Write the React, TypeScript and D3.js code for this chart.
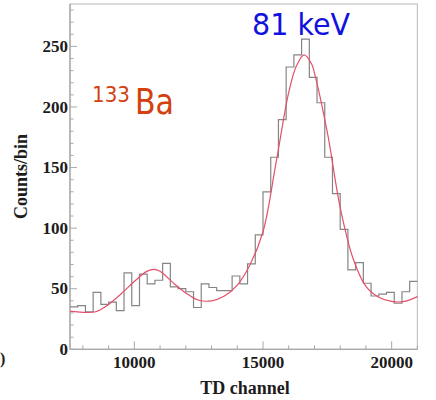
import React from "react";
import * as d3 from "d3";

// Histogram: TD channel bins (300 channels each, starting at 7500)
const binLowEdges: number[] = d3.range(7500, 21000, 300);
const binWidthChannels = 300;
const counts: number[] = [
  35, 36, 31, 47, 37, 39, 32, 63, 36, 62, 54, 57, 71, 51.5, 50, 47.5, 34.5, 54, 51,
  48.5, 48.5, 60.5, 54, 70.5, 94.5, 130, 158.5, 189.5, 233, 243, 256, 224.5, 203.5,
  158.5, 128.5, 99, 65.5, 71.5, 54.5, 44, 45.5, 47, 38, 47.5, 56,
];

// Fit curve
const fitChannels: number[] = [
  7500, 8000, 8500, 9000, 9500, 10000, 10500, 10750, 11000, 11500, 12000, 12500, 13000,
  13500, 14000, 14500, 15000, 15500, 16000, 16300, 16600, 16900, 17000, 17500, 18000,
  18500, 19000, 19500, 20000, 20500, 21000,
];
const fitValues: number[] = [
  31.5, 30.5, 31, 37, 46, 56, 64.5, 66, 64.5, 55, 46.5, 40.5, 40, 44, 53, 70, 97, 153,
  212, 234, 243, 235, 228, 179, 117, 75, 52, 43, 39.5, 39.5, 43.5,
];

const xTicksMajor: number[] = [10000, 15000, 20000];
const xTicksMinor: number[] = d3.range(8000, 21001, 1000);
const yTicksMajor: number[] = [0, 50, 100, 150, 200, 250];
const yTicksMinor: number[] = d3.range(0, 281, 10);

const X_DOMAIN: [number, number] = [7500, 21000];
const Y_DOMAIN: [number, number] = [0, 285];

export default function App() {
  const W = 436;
  const H = 400;
  const left = 70;
  const right = 417.4;
  const top = 4;
  const bottom = 349.3;

  const x = d3.scaleLinear().domain(X_DOMAIN).range([left, right]);
  const y = d3.scaleLinear().domain(Y_DOMAIN).range([bottom, top]);

  const stepPts: [number, number][] = binLowEdges.map((c, i) => [c, counts[i]]);
  stepPts.push([binLowEdges[binLowEdges.length - 1] + binWidthChannels, counts[counts.length - 1]]);
  const histLine = d3
    .line<[number, number]>()
    .x((d) => x(d[0]))
    .y((d) => y(d[1]))
    .curve(d3.curveStepAfter);

  const fitLine = d3
    .line<number>()
    .x((_, i) => x(fitChannels[i]))
    .y((d) => y(d))
    .curve(d3.curveCatmullRom.alpha(0.5));

  const serif = "'Liberation Serif', 'Times New Roman', serif";
  const comic = "'Comic Sans MS', 'DejaVu Sans', sans-serif";
  const axisCol = "#a8a8a8";
  const textCol = "#1c1c1c";

  return (
    <div style={{ position: "absolute", left: 0, top: 0 }}>
      <svg width={W} height={H} style={{ display: "block", background: "#fff" }}>
        <rect x={0} y={0} width={W} height={H} fill="#fff" />
        {/* frame */}
        <rect
          x={left}
          y={top}
          width={right - left}
          height={bottom - top}
          fill="none"
          stroke="#c4c4c4"
          strokeWidth={1.2}
        />
        <line x1={left} x2={left} y1={top} y2={bottom} stroke={axisCol} strokeWidth={1.3} />
        <line x1={left} x2={right} y1={bottom} y2={bottom} stroke={axisCol} strokeWidth={1.3} />

        {/* y ticks */}
        {yTicksMinor.map((v) => (
          <line
            key={"ym" + v}
            x1={left}
            x2={left + (v % 50 === 0 ? 7 : 3.5)}
            y1={y(v)}
            y2={y(v)}
            stroke={axisCol}
            strokeWidth={1}
          />
        ))}
        {/* x ticks */}
        {xTicksMinor.map((v) => (
          <line
            key={"xm" + v}
            x1={x(v)}
            x2={x(v)}
            y1={bottom}
            y2={bottom - (v % 5000 === 0 ? 8 : 4)}
            stroke={axisCol}
            strokeWidth={1}
          />
        ))}

        {/* histogram */}
        <path d={histLine(stepPts) || ""} fill="none" stroke="#858585" strokeWidth={1.2} />
        {/* fit */}
        <path d={fitLine(fitValues) || ""} fill="none" stroke="#e4506a" strokeWidth={1.2} />

        {/* tick labels */}
        {yTicksMajor.map((v) => (
          <text
            key={"yl" + v}
            x={68}
            y={y(v) + 5.7}
            textAnchor="end"
            fontFamily={serif}
            fontWeight="bold"
            fontSize={17}
            fill={textCol}
          >
            {v}
          </text>
        ))}
        {xTicksMajor.map((v) => (
          <text
            key={"xl" + v}
            x={x(v)}
            y={367.5}
            textAnchor="middle"
            fontFamily={serif}
            fontWeight="bold"
            fontSize={17}
            fill={textCol}
          >
            {v}
          </text>
        ))}

        {/* axis titles */}
        <text
          x={245}
          y={394}
          textAnchor="middle"
          fontFamily={serif}
          fontWeight="bold"
          fontSize={18}
          fill={textCol}
        >
          TD channel
        </text>
        <text
          transform="translate(27,176.5) rotate(-90)"
          textAnchor="middle"
          fontFamily={serif}
          fontWeight="bold"
          fontSize={18}
          fill={textCol}
        >
          Counts/bin
        </text>

        {/* stray glyph at left edge */}
        <text x={0} y={364} fontFamily={serif} fontWeight="bold" fontSize={16} fill={textCol}>
          )
        </text>

        {/* annotations */}
        <text
          x={252}
          y={35}
          fontFamily={comic}
          fontSize={30}
          fill="#1212e0"
          textLength={98}
          lengthAdjust="spacingAndGlyphs"
        >
          81 keV
        </text>
        <text
          x={92}
          y={101.5}
          fontFamily={comic}
          fontSize={22}
          fill="#d2410f"
          textLength={38}
          lengthAdjust="spacingAndGlyphs"
        >
          133
        </text>
        <text
          x={135}
          y={114.3}
          fontFamily={comic}
          fontSize={36}
          fill="#d2410f"
          textLength={39}
          lengthAdjust="spacingAndGlyphs"
        >
          Ba
        </text>
      </svg>
    </div>
  );
}
